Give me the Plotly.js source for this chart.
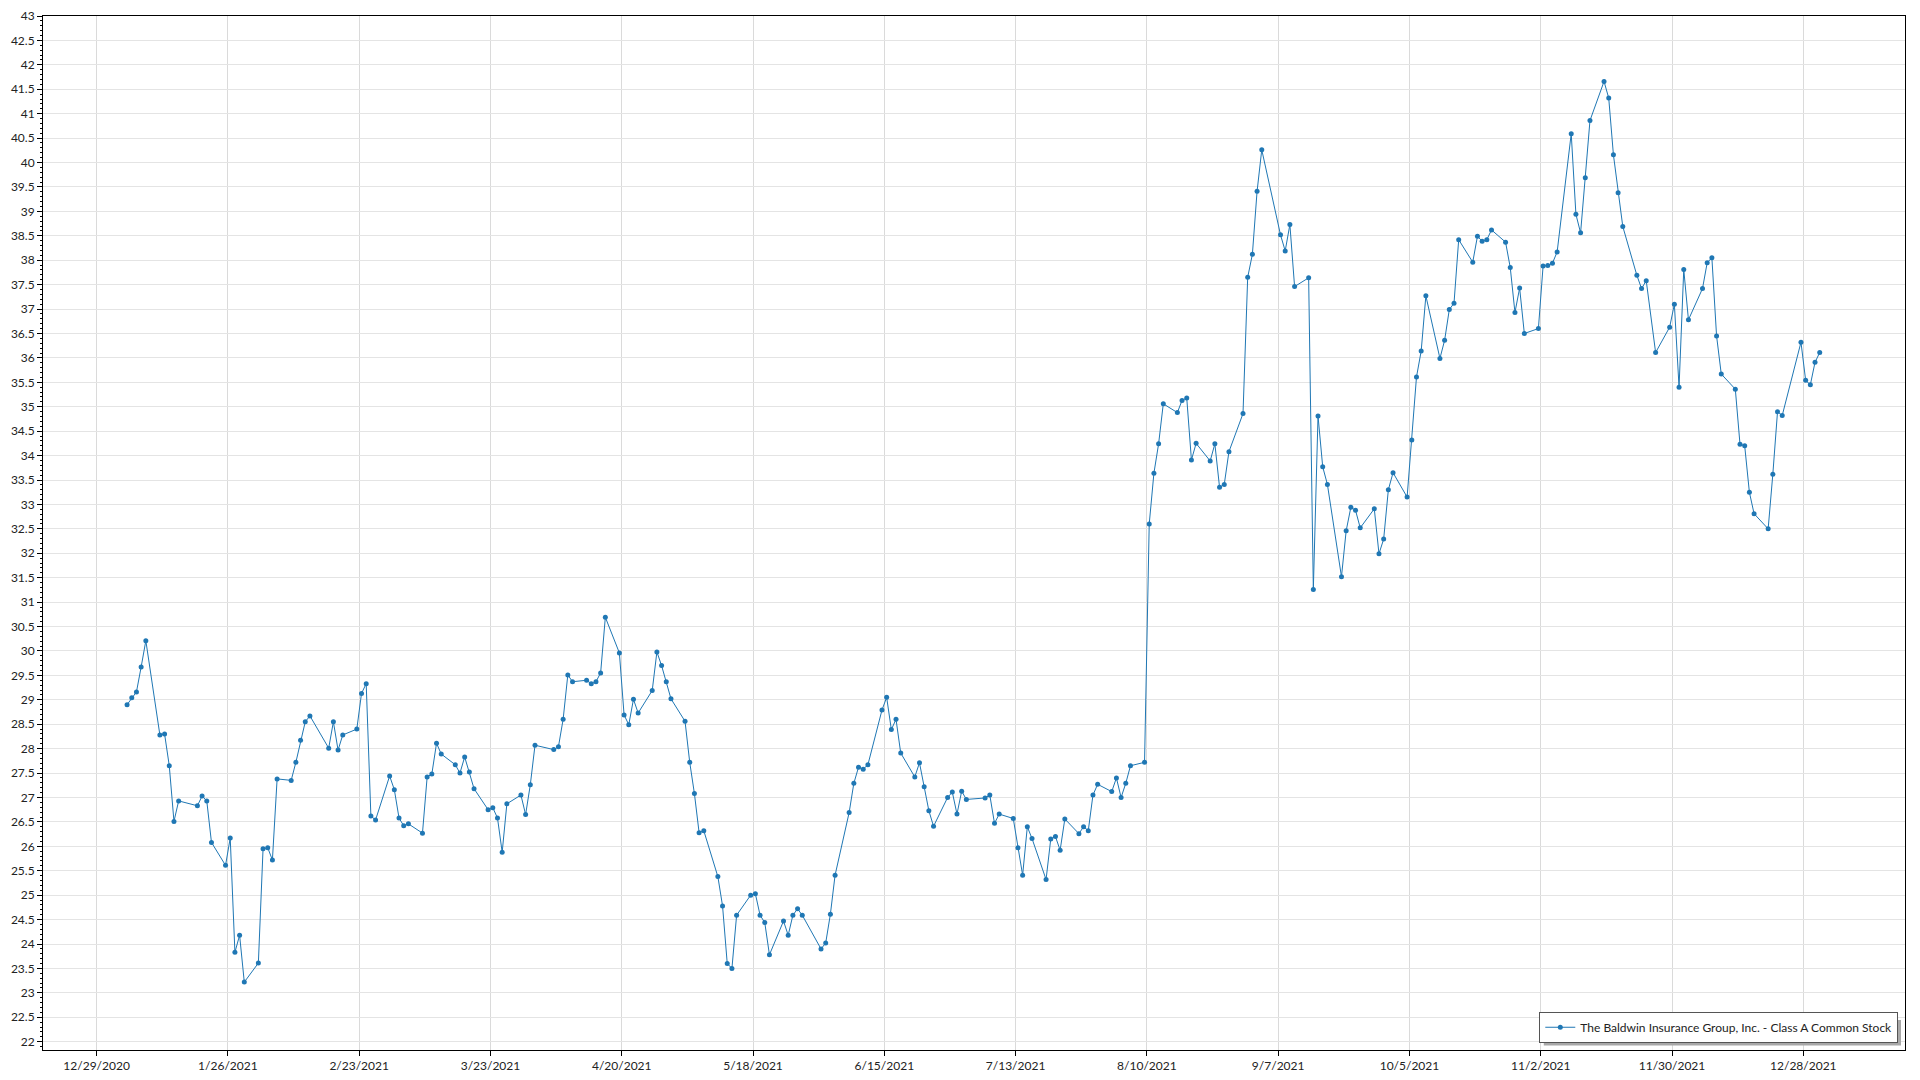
<!DOCTYPE html>
<html>
<head>
<meta charset="utf-8">
<script src="https://cdn.plot.ly/plotly-3.0.1.min.js"></script>
<style>
html,body{margin:0;padding:0;background:#fff;}
#chart{width:1920px;height:1080px;}
</style>
</head>
<body>
<div id="chart"></div>
<script>
const seriesName = "The Baldwin Insurance Group, Inc. - Class A Common Stock";

const dates = [
"2021-01-04","2021-01-05","2021-01-06","2021-01-07","2021-01-08","2021-01-11","2021-01-12","2021-01-13","2021-01-14","2021-01-15",
"2021-01-19","2021-01-20","2021-01-21","2021-01-22","2021-01-25","2021-01-26","2021-01-27","2021-01-28","2021-01-29",
"2021-02-01","2021-02-02","2021-02-03","2021-02-04","2021-02-05","2021-02-08","2021-02-09","2021-02-10","2021-02-11","2021-02-12",
"2021-02-16","2021-02-17","2021-02-18","2021-02-19","2021-02-22","2021-02-23","2021-02-24","2021-02-25","2021-02-26",
"2021-03-01","2021-03-02","2021-03-03","2021-03-04","2021-03-05","2021-03-08","2021-03-09","2021-03-10","2021-03-11","2021-03-12",
"2021-03-15","2021-03-16","2021-03-17","2021-03-18","2021-03-19","2021-03-22","2021-03-23","2021-03-24","2021-03-25","2021-03-26",
"2021-03-29","2021-03-30","2021-03-31",
"2021-04-01","2021-04-05","2021-04-06","2021-04-07","2021-04-08","2021-04-09","2021-04-12","2021-04-13","2021-04-14","2021-04-15",
"2021-04-16","2021-04-19","2021-04-20","2021-04-21","2021-04-22","2021-04-23","2021-04-26","2021-04-27","2021-04-28","2021-04-29","2021-04-30",
"2021-05-03","2021-05-04","2021-05-05","2021-05-06","2021-05-07","2021-05-10","2021-05-11","2021-05-12","2021-05-13","2021-05-14",
"2021-05-17","2021-05-18","2021-05-19","2021-05-20","2021-05-21","2021-05-24","2021-05-25","2021-05-26","2021-05-27","2021-05-28",
"2021-06-01","2021-06-02","2021-06-03","2021-06-04","2021-06-07","2021-06-08","2021-06-09","2021-06-10","2021-06-11",
"2021-06-14","2021-06-15","2021-06-16","2021-06-17","2021-06-18","2021-06-21","2021-06-22","2021-06-23","2021-06-24","2021-06-25",
"2021-06-28","2021-06-29","2021-06-30",
"2021-07-01","2021-07-02","2021-07-06","2021-07-07","2021-07-08","2021-07-09","2021-07-12","2021-07-13","2021-07-14","2021-07-15","2021-07-16",
"2021-07-19","2021-07-20","2021-07-21","2021-07-22","2021-07-23","2021-07-26","2021-07-27","2021-07-28","2021-07-29","2021-07-30",
"2021-08-02","2021-08-03","2021-08-04","2021-08-05","2021-08-06","2021-08-09","2021-08-10","2021-08-11","2021-08-12","2021-08-13",
"2021-08-16","2021-08-17","2021-08-18","2021-08-19","2021-08-20","2021-08-23","2021-08-24","2021-08-25","2021-08-26","2021-08-27",
"2021-08-30","2021-08-31",
"2021-09-01","2021-09-02","2021-09-03","2021-09-07","2021-09-08","2021-09-09","2021-09-10","2021-09-13","2021-09-14","2021-09-15",
"2021-09-16","2021-09-17","2021-09-20","2021-09-21","2021-09-22","2021-09-23","2021-09-24","2021-09-27","2021-09-28","2021-09-29","2021-09-30",
"2021-10-01","2021-10-04","2021-10-05","2021-10-06","2021-10-07","2021-10-08","2021-10-11","2021-10-12","2021-10-13","2021-10-14","2021-10-15",
"2021-10-18","2021-10-19","2021-10-20","2021-10-21","2021-10-22","2021-10-25","2021-10-26","2021-10-27","2021-10-28","2021-10-29",
"2021-11-01","2021-11-02","2021-11-03","2021-11-04","2021-11-05","2021-11-08","2021-11-09","2021-11-10","2021-11-11","2021-11-12",
"2021-11-15","2021-11-16","2021-11-17","2021-11-18","2021-11-19","2021-11-22","2021-11-23","2021-11-24","2021-11-26","2021-11-29","2021-11-30",
"2021-12-01","2021-12-02","2021-12-03","2021-12-06","2021-12-07","2021-12-08","2021-12-09","2021-12-10","2021-12-13","2021-12-14",
"2021-12-15","2021-12-16","2021-12-17","2021-12-20","2021-12-21","2021-12-22","2021-12-23","2021-12-27","2021-12-28","2021-12-29",
"2021-12-30","2021-12-31"
];

const prices = [
28.90,29.04,29.16,29.67,30.21,28.28,28.30,27.65,26.51,26.93,
26.83,27.03,26.93,26.08,25.61,26.17,23.83,24.18,23.22,
23.61,25.95,25.97,25.72,27.38,27.35,27.72,28.17,28.55,28.67,
28.01,28.55,27.97,28.28,28.40,29.13,29.33,26.62,26.54,
27.44,27.16,26.58,26.42,26.46,26.27,27.42,27.48,28.11,27.89,
27.67,27.50,27.83,27.52,27.18,26.75,26.79,26.58,25.88,26.87,
27.05,26.65,27.26,
28.07,27.98,28.04,28.60,29.51,29.37,29.40,29.33,29.37,29.55,
30.69,29.96,28.69,28.49,29.01,28.73,29.19,29.98,29.70,29.37,29.02,
28.56,27.72,27.08,26.28,26.32,25.38,24.78,23.60,23.50,24.59,
25.00,25.03,24.59,24.44,23.78,24.47,24.18,24.59,24.72,24.59,
23.90,24.02,24.61,25.41,26.69,27.29,27.62,27.58,27.67,
28.79,29.05,28.39,28.60,27.91,27.42,27.71,27.22,26.73,26.41,
27.00,27.11,26.66,
27.13,26.96,26.99,27.05,26.47,26.66,26.57,25.97,25.41,26.40,26.16,
25.32,26.15,26.20,25.92,26.56,26.26,26.40,26.32,27.05,27.27,
27.12,27.40,27.00,27.29,27.65,27.72,32.60,33.64,34.24,35.06,
34.88,35.13,35.18,33.91,34.25,33.89,34.24,33.35,33.41,34.08,
34.86,37.65,
38.12,39.41,40.26,38.52,38.19,38.73,37.46,37.64,31.26,34.81,
33.77,33.41,31.52,32.46,32.94,32.88,32.52,32.91,31.99,32.29,33.30,
33.65,33.15,34.32,35.61,36.14,37.27,35.99,36.36,36.99,37.12,38.42,
37.96,38.49,38.39,38.42,38.62,38.37,37.85,36.93,37.43,36.50,
36.60,37.88,37.89,37.94,38.17,40.59,38.94,38.56,39.69,40.86,
41.66,41.32,40.16,39.38,38.69,37.69,37.42,37.58,36.11,36.63,37.10,
35.40,37.81,36.78,37.42,37.95,38.05,36.45,35.67,35.36,34.23,
34.20,33.25,32.81,32.50,33.62,34.90,34.82,36.32,35.54,35.45,
35.91,36.11
];

const xTickVals = ["2020-12-29","2021-01-26","2021-02-23","2021-03-23","2021-04-20","2021-05-18","2021-06-15",
                   "2021-07-13","2021-08-10","2021-09-07","2021-10-05","2021-11-02","2021-11-30","2021-12-28"];
const xTickText = ["12/29/2020","1/26/2021","2/23/2021","3/23/2021","4/20/2021","5/18/2021","6/15/2021",
                   "7/13/2021","8/10/2021","9/7/2021","10/5/2021","11/2/2021","11/30/2021","12/28/2021"];

const FONT = "Segoe UI, Lato, Noto Sans, sans-serif";

const trace = {
  type: "scatter",
  mode: "lines+markers",
  name: seriesName,
  x: dates,
  y: prices,
  xperiod: 86400000,
  xperiodalignment: "middle",
  line: {color: "#1f77b4", width: 1},
  marker: {color: "#1f77b4", size: 5},
  showlegend: true
};

const layout = {
  width: 1920,
  height: 1080,
  paper_bgcolor: "#ffffff",
  plot_bgcolor: "#ffffff",
  margin: {l: 43, r: 15, t: 16, b: 30, pad: 0},
  font: {family: FONT, size: 12, color: "#222"},
  showlegend: true,
  xaxis: {
    type: "date",
    range: ["2020-12-17 13:40", "2022-01-18 16:30"],
    tickmode: "array",
    tickvals: xTickVals,
    ticktext: xTickText,
    ticks: "outside",
    ticklen: 5,
    tickcolor: "#000",
    showline: true,
    linecolor: "#000",
    linewidth: 1,
    mirror: true,
    showgrid: true,
    gridcolor: "#dadada",
    gridwidth: 1,
    zeroline: false,
    tickfont: {family: FONT, size: 12, color: "#222"}
  },
  yaxis: {
    range: [21.83, 43],
    dtick: 0.5,
    tick0: 0,
    ticks: "outside",
    ticklen: 5,
    tickcolor: "#000",
    showline: true,
    linecolor: "#000",
    linewidth: 1,
    mirror: true,
    showgrid: true,
    gridcolor: "#e4e4e4",
    gridwidth: 1,
    zeroline: false,
    tickfont: {family: FONT, size: 12, color: "#222"},
    minor: {dtick: 0.1, ticks: "outside", ticklen: 2, tickcolor: "#000", showgrid: false}
  },
  legend: {
    x: 0.9964,
    xanchor: "right",
    y: 0.007,
    yanchor: "bottom",
    bgcolor: "#ffffff",
    bordercolor: "#555",
    borderwidth: 1,
    font: {family: FONT, size: 12, color: "#222"},
    itemwidth: 30
  },
  shapes: [{
    type: "rect", xref: "paper", yref: "paper", layer: "above",
    x0: 0.8060, x1: 0.99785, y0: 0.0044, y1: 0.029,
    fillcolor: "#a8a8a8", line: {width: 0}
  }]
};

Plotly.newPlot("chart", [trace], layout, {displayModeBar: false, staticPlot: true});
</script>
</body>
</html>
